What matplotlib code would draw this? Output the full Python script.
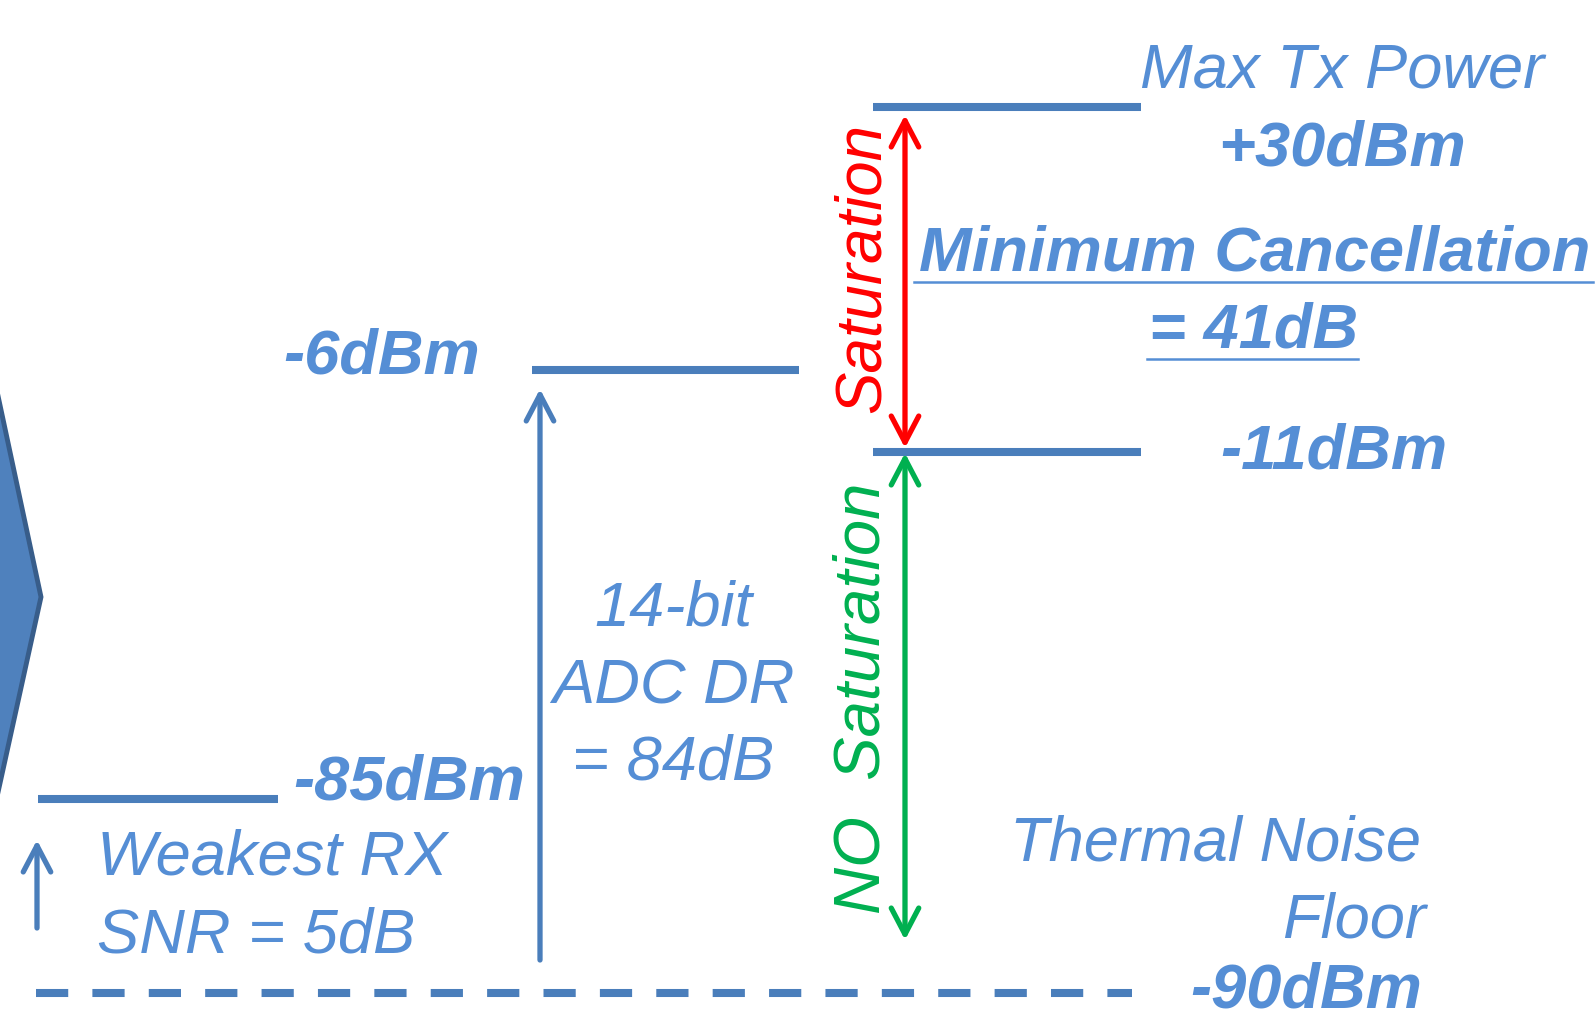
import matplotlib.pyplot as plt
from matplotlib.patches import Polygon

plt.rcParams['font.family'] = ['Liberation Sans', 'DejaVu Sans']

# power levels in dBm
tx_max_dbm = 30
adc_full_scale_dbm = -6
adc_max_input_dbm = -11
weakest_rx_dbm = -85
noise_floor_dbm = -90
adc_bits = 14

# derived figures written on the diagram
min_cancellation_db = tx_max_dbm - adc_max_input_dbm
adc_dr_db = adc_full_scale_dbm - noise_floor_dbm
snr_db = weakest_rx_dbm - noise_floor_dbm

LINE = '#4A7EBB'
TEXT = '#558ED5'
RED = '#FF0000'
GREEN = '#00B050'

# level bars: dBm -> (y, x0, x1) in pixel layout
level_layout = {
    tx_max_dbm: (107, 873, 1141),
    adc_full_scale_dbm: (370.5, 532, 799),
    adc_max_input_dbm: (452, 873, 1141),
    weakest_rx_dbm: (799, 38, 278),
}
floor_layout = (993, 36, 1132)

W, H = 1596, 1021
fig = plt.figure(figsize=(W / 100, H / 100), dpi=100)
ax = fig.add_axes([0, 0, 1, 1])
ax.set_xlim(0, W)
ax.set_ylim(H, 0)
ax.axis('off')


def dbm(v):
    return f"{v:+d}dBm" if v > 0 else f"{v:d}dBm"


def label(x, y, s, weight='normal', ha='left', size=45.5, color=TEXT,
          va='baseline', **kw):
    return ax.text(x, y, s, fontsize=size, style='italic', weight=weight,
                   ha=ha, va=va, color=color, **kw)


def arrow(x, y0, y1, color, style='->'):
    ax.annotate('', xy=(x, y1), xytext=(x, y0),
                arrowprops=dict(arrowstyle=f'{style}, head_length=0.42, head_width=0.22',
                                lw=3.8, color=color, shrinkA=0, shrinkB=0,
                                mutation_scale=45, capstyle='round',
                                joinstyle='round'))


# chevron on the left edge
ax.add_patch(Polygon([(-40, 218), (41, 597), (-40, 965)], closed=True,
                     facecolor='#4F81BD', edgecolor='#385D8A', lw=3.5))

# level bars
for v, (y, x0, x1) in level_layout.items():
    ax.plot([x0, x1], [y, y], color=LINE, lw=5.8, solid_capstyle='butt')

y, x0, x1 = floor_layout
ax.plot([x0, x1], [y, y], color=LINE, lw=5.8, linestyle=(0, (4.0, 3.0)),
        dash_capstyle='butt')

# arrows
arrow(905, 115, 448, RED, '<->')
arrow(905, 940, 453, GREEN, '<->')
arrow(540, 960, 389, LINE)
arrow(37, 928, 840, LINE)

# dBm labels
label(1140, 87, "Max Tx Power")
label(1342, 165, dbm(tx_max_dbm), weight='bold', ha='center')
label(1334, 468, dbm(adc_max_input_dbm), weight='bold', ha='center')
label(382, 373, dbm(adc_full_scale_dbm), weight='bold', ha='center')
label(409, 799, dbm(weakest_rx_dbm), weight='bold', ha='center')
label(1306, 1020, dbm(noise_floor_dbm), weight='bold', ha='center', va='bottom')

# cancellation requirement, underlined
label(1255, 270, "Minimum Cancellation", weight='bold', ha='center')
ax.plot([914, 1593], [282, 282], color=TEXT, lw=1.8)
label(1254, 347, f"= {min_cancellation_db}dB", weight='bold', ha='center')
ax.plot([1147, 1358], [359, 359], color=TEXT, lw=1.8)

# ADC dynamic range
label(673, 625, f"{adc_bits}-bit", ha='center')
label(673, 703, "ADC DR", ha='center')
label(673, 779, f"= {adc_dr_db}dB", ha='center')

# weakest receive signal
label(97, 874, "Weakest RX")
label(97, 952, f"SNR = {snr_db}dB")

# noise floor
label(1421, 860, "Thermal Noise", ha='right')
label(1426, 937, "Floor", ha='right')

# saturation regions
ax.text(880, 268, "Saturation", fontsize=45.8, style='italic', color=RED,
        rotation=90, rotation_mode='anchor', ha='center', va='baseline')
ax.text(880, 698, "NO  Saturation", fontsize=47, style='italic', color=GREEN,
        rotation=90, rotation_mode='anchor', ha='center', va='baseline')

fig.savefig('out.png', dpi=100)
